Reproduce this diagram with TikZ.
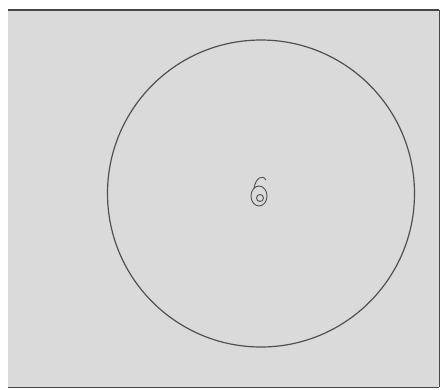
\documentclass[tikz,border=0pt]{standalone}
\definecolor{bggray}{RGB}{218,218,218}
\definecolor{edgegray}{RGB}{70,70,70}
\definecolor{linegray}{RGB}{80,80,80}
\tikzset{panel/.style={fill=bggray,draw=none},
  ring/.style={draw=linegray,line width=1.2pt},
  glyph/.style={draw=linegray,line width=0.9pt}}
\begin{document}
\begin{tikzpicture}[x=1pt,y=-1pt]
\useasboundingbox (0,0) rectangle (444,389);
\fill[white] (0,0) rectangle (444,389);
\node[panel,minimum width=431pt,minimum height=377pt,inner sep=0pt,anchor=north west] (box) at (8,10) {};
\draw[edgegray,line width=2.5pt] (box.north west) -- (box.north east);
\draw[edgegray,line width=1.5pt] (box.north east) -- (box.south east);
\draw[edgegray,line width=1pt] (box.south west) -- (box.south east);
\node[ring,circle,minimum size=307pt,inner sep=0pt] (big) at (261,193.5) {};
\coordinate (c) at (259,196);
\draw[glyph] (c) ellipse [x radius=8pt,y radius=10pt];
\draw[glyph] (260,198) circle [radius=3.5pt];
\draw[glyph] (254,188) .. controls (256,178) and (262,174) .. (266,180);
\end{tikzpicture}
\end{document}
